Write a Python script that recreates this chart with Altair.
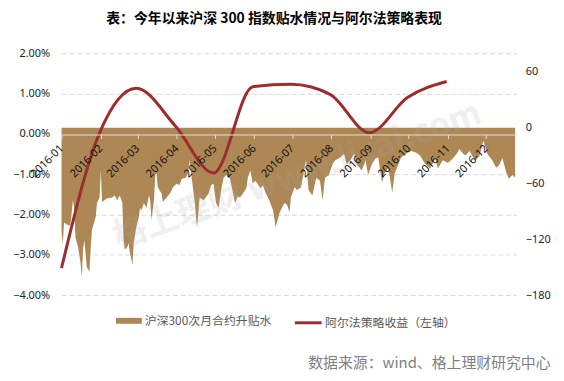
import altair as alt
import pandas as pd

title_text = "表：今年以来沪深 300 指数贴水情况与阿尔法策略表现"
area_name = "沪深300次月合约升贴水"
line_name = "阿尔法策略收益（左轴）"
source_text = "数据来源：wind、格上理财研究中心"
watermark_text = "格上理财 www.licai.com"

# basis (right axis, index points): day offset from 2016-01-01 and value
basis_day = [0, 1, 2, 5, 7, 9, 10, 11, 13, 15, 16, 17, 18, 20, 22, 23, 24, 27, 28, 30,
             31, 32, 36, 40, 42, 44, 45, 46, 48, 49, 50, 52, 53, 54, 56, 57, 59, 61, 62, 63,
             65, 67, 69, 70, 71, 73, 74, 75, 76, 79, 80, 83, 86, 88, 91, 93, 95, 98, 100, 101,
             103, 105, 107, 109, 112, 116, 118, 120, 122, 124, 126, 128, 130, 133, 137, 139, 141, 143, 146, 147,
             149, 151, 153, 157, 159, 161, 164, 167, 169, 172, 174, 176, 178, 180, 181, 184, 186, 189, 193, 195,
             198, 201, 204, 206, 208, 211, 214, 216, 220, 223, 225, 228, 231, 233, 237, 240, 242, 245, 248, 250,
             253, 255, 258, 261, 263, 266, 268, 272, 276, 280, 283, 287, 291, 295, 297, 301, 305, 309, 312, 314,
             317, 319, 322, 325, 327, 330, 333, 336, 340, 343, 345, 348, 351, 353, 356, 358]
basis_value = [-112, -126, -102, -105, -105, -78, -87, -118, -128, -145, -161, -131, -121, -150, -155, -131, -110, -96, -81, -75,
               -46, -80, -76, -75, -73, -78, -75, -73, -81, -121, -131, -128, -124, -135, -147, -124, -107, -96, -86, -89,
               -81, -86, -73, -78, -99, -78, -51, -49, -64, -71, -80, -75, -70, -64, -60, -62, -55, -54, -49, -35,
               -57, -78, -108, -75, -78, -71, -62, -60, -81, -86, -67, -54, -51, -55, -81, -74, -75, -71, -65, -54,
               -46, -60, -57, -65, -62, -70, -78, -89, -107, -92, -86, -81, -83, -91, -75, -64, -67, -64, -35, -67,
               -73, -54, -57, -78, -54, -51, -39, -35, -32, -28, -39, -35, -28, -39, -46, -35, -51, -39, -33, -32,
               -59, -49, -43, -70, -49, -39, -32, -28, -25, -27, -30, -39, -44, -33, -44, -35, -38, -33, -28, -23,
               -28, -30, -25, -32, -35, -30, -14, -28, -35, -43, -41, -33, -48, -55, -51, -54]

# alpha strategy cumulative return (left axis, %)
alpha_dates = ["2016-01-01", "2016-01-31", "2016-02-29", "2016-03-31", "2016-04-30", "2016-05-31",
               "2016-06-30", "2016-07-31", "2016-08-31", "2016-09-30", "2016-10-31"]
alpha_value = [-3.33, 0.02, 1.13, 0.19, -0.97, 1.17, 1.23, 0.98, 0.03, 0.90, 1.30]

left_ticks = [2, 1, 0, -1, -2, -3, -4]
right_ticks = [60, 0, -60, -120, -180]
month_ticks = list(range(1, 13))

start = pd.Timestamp("2016-01-01")
basis_df = pd.DataFrame({
    "date": [(start + pd.Timedelta(days=d)).strftime("%Y-%m-%d") for d in basis_day],
    "basis": basis_value,
    "series": area_name,
})
alpha_df = pd.DataFrame({"date": alpha_dates, "ret": alpha_value, "series": line_name})

BROWN = "#ad8754"
RED = "#9b2d2f"
NUM_FONT = "Noto Sans"
CJK_FONT = "Noto Sans CJK SC"

x_scale = alt.Scale(
    type="utc",
    domain=[alt.DateTime(year=2016, month=1, date=1, utc=True),
            alt.DateTime(year=2016, month=12, date=25, utc=True)],
)
x_axis = alt.Axis(
    title=None,
    values=[alt.DateTime(year=2016, month=m, date=1, utc=True) for m in month_ticks],
    format="%Y-%m",
    offset=-162,
    zindex=1,
    domainColor="#e6e0d6",
    tickColor="#e6e0d6",
    tickSize=4,
    labelAngle=-45,
    labelAlign="right",
    labelBaseline="middle",
    labelPadding=8,
    labelFont=NUM_FONT,
    labelFontSize=11,
    labelColor="#111111",
    grid=False,
    labelOverlap=False,
)

area = alt.Chart(basis_df).mark_area(interpolate="linear").encode(
    x=alt.X("date:T", scale=x_scale, axis=x_axis),
    y=alt.Y("basis:Q", scale=alt.Scale(domain=[-180, 80], nice=False),
            axis=alt.Axis(orient="right", title=None, values=right_ticks, grid=False,
                          domain=False, ticks=False, labelPadding=9, labelFont=NUM_FONT,
                          labelFontSize=11, labelColor="#222222")),
    fill=alt.Fill("series:N", scale=alt.Scale(domain=[area_name], range=[BROWN]),
                  legend=alt.Legend(orient="none", legendX=55, legendY=257, padding=0, title=None,
                                    symbolType="M-1,-0.23L1,-0.23L1,0.23L-1,0.23Z",
                                    symbolSize=676, symbolStrokeWidth=0, symbolOpacity=1,
                                    labelFont=CJK_FONT, labelFontSize=12, labelColor="#595959",
                                    labelOffset=3)),
)

line = alt.Chart(alpha_df).mark_line(interpolate="monotone", strokeWidth=3).encode(
    x=alt.X("date:T", scale=x_scale, axis=x_axis),
    y=alt.Y("ret:Q", scale=alt.Scale(domain=[-4, 2], nice=False),
            axis=alt.Axis(orient="left", title=None, values=left_ticks, grid=True,
                          gridColor="#d9d9d9", gridDash=[5, 3], domain=False, ticks=False,
                          labelPadding=12, labelFont=NUM_FONT, labelFontSize=11,
                          labelColor="#222222",
                          labelExpr="format(datum.value, '.2f') + '%'")),
    stroke=alt.Stroke("series:N", scale=alt.Scale(domain=[line_name], range=[RED]),
                      legend=alt.Legend(orient="none", legendX=234, legendY=257, padding=0, title=None,
                                        symbolType="stroke", symbolSize=729, symbolStrokeWidth=3,
                                        labelFont=CJK_FONT, labelFontSize=12, labelColor="#595959",
                                        labelOffset=2)),
)

watermark = alt.Chart(pd.DataFrame({"t": [watermark_text]})).mark_text(
    angle=341, font=CJK_FONT, fontSize=34, fontWeight="bold", color="#a8a8a8", opacity=0.18,
    align="center", baseline="middle",
).encode(x=alt.value(238), y=alt.value(124), text="t:N")

source = alt.Chart(pd.DataFrame({"t": [source_text]})).mark_text(
    font=CJK_FONT, fontSize=15, color="#7f7f7f", align="left", baseline="middle",
).encode(x=alt.value(249), y=alt.value(313), text="t:N")

chart = alt.layer(area, line, watermark, source).resolve_scale(
    y="independent", fill="independent", stroke="independent"
).properties(
    width=459,
    height=244,
    padding={"left": 54, "top": 44, "right": 40, "bottom": 77},
    autosize="none",
    title=alt.Title(title_text, font=CJK_FONT, fontSize=14, fontWeight="bold", color="#000000",
                    anchor="middle", offset=22, dx=-15),
).configure_view(stroke=None)

chart.save("out.html", embed_options={"renderer": "svg", "actions": False})
